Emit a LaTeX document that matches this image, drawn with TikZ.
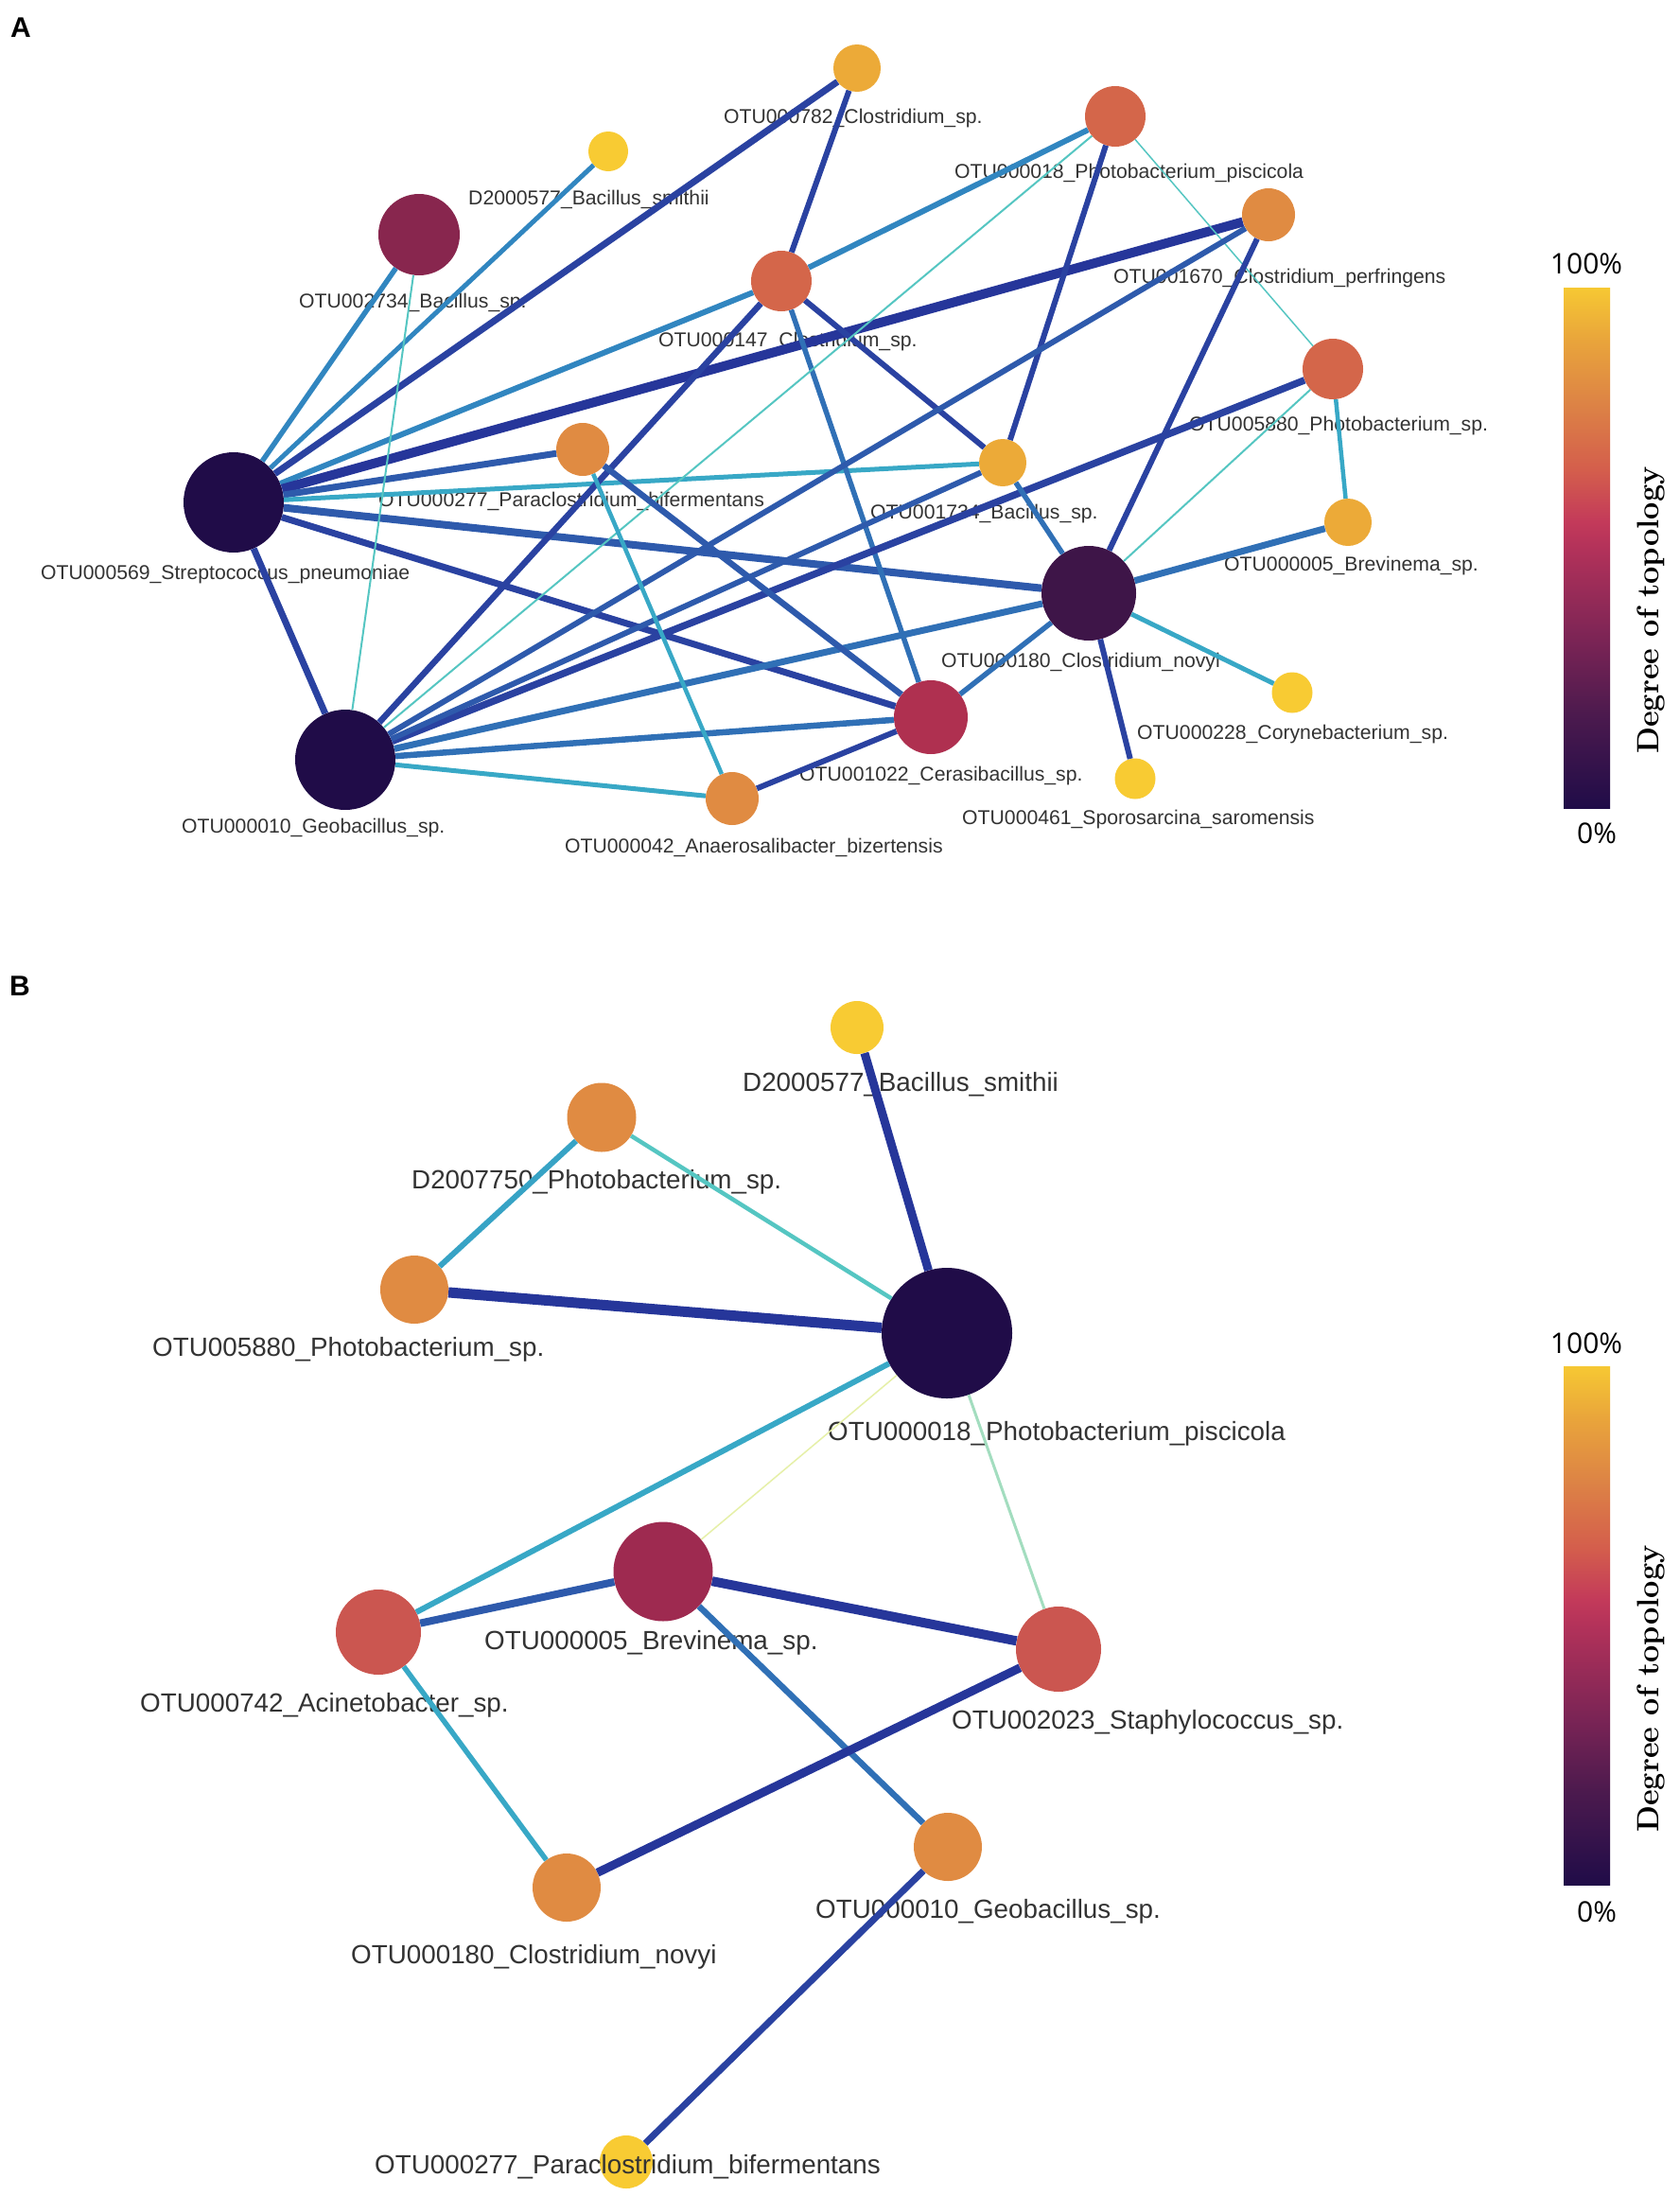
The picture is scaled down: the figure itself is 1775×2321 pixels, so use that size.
\documentclass[tikz,border=0pt]{standalone}
\usepackage{fontspec}
\newfontfamily\arial{Liberation Sans}
\newfontfamily\pctfont{Open Sans}
\pgfdeclarelayer{bg}
\pgfdeclarelayer{labels}
\pgfdeclarelayer{edges}
\pgfsetlayers{bg,main,labels,edges}
% node colours
\definecolor{nDark}{HTML}{200C48}
\definecolor{nPurp}{HTML}{3E1548}
\definecolor{nWine}{HTML}{88264E}
\definecolor{nCrim}{HTML}{AF3050}
\definecolor{nRose}{HTML}{9E2A50}
\definecolor{nCoral}{HTML}{D4664A}
\definecolor{nRed}{HTML}{CB5650}
\definecolor{nOrng}{HTML}{E08B42}
\definecolor{nLOr}{HTML}{ECAA38}
\definecolor{nYel}{HTML}{F8CB33}
% edge colours
\definecolor{eNavy}{HTML}{26369A}
\definecolor{eDark}{HTML}{2A42A1}
\definecolor{eMid}{HTML}{2E5AAC}
\definecolor{eMed}{HTML}{3070B6}
\definecolor{eLight}{HTML}{3186C0}
\definecolor{eCyan}{HTML}{38A8C6}
\definecolor{eTurq}{HTML}{55C6C2}
\definecolor{eMint}{HTML}{A3DDBF}
\definecolor{ePale}{HTML}{E6F0A8}
\definecolor{labc}{HTML}{333333}
% colour bar
\definecolor{cb0}{HTML}{200C48}
\definecolor{cb1}{HTML}{4C1A4E}
\definecolor{cb2}{HTML}{7A2455}
\definecolor{cb3}{HTML}{B3325A}
\definecolor{cb4}{HTML}{C33A5A}
\definecolor{cb5}{HTML}{D45E4C}
\definecolor{cb6}{HTML}{DD8445}
\definecolor{cb7}{HTML}{E9A53B}
\definecolor{cb8}{HTML}{F6C833}
\pgfdeclareverticalshading{topo}{100bp}{color(0bp)=(cb0); color(25bp)=(cb0); color(34bp)=(cb1); color(41bp)=(cb2); color(50bp)=(cb3); color(52.5bp)=(cb4); color(57.5bp)=(cb5); color(64bp)=(cb6); color(70bp)=(cb7); color(75bp)=(cb8); color(100bp)=(cb8)}
\begin{document}
\begin{tikzpicture}[x=1pt,y=-1pt,
  nd/.style={circle, inner sep=0pt, draw=none},
  labA/.style={font=\arial\fontsize{21.2}{24}\selectfont, text=labc, inner sep=0pt, anchor=base west},
  labB/.style={font=\arial\fontsize{27.8}{32}\selectfont, text=labc, inner sep=0pt, anchor=base west},
  panel/.style={font=\arial\bfseries\fontsize{30}{34}\selectfont, inner sep=0pt, anchor=base west},
  pct/.style={font=\pctfont\fontsize{30}{34}\selectfont, inner sep=0pt},
  deg/.style={font=\bfseries\fontsize{32.5}{36}\selectfont, inner sep=0pt, rotate=90},
  cbar/.style={shading=topo, inner sep=0pt, minimum width=49, draw=none},
]
\useasboundingbox (0,0) rectangle (1775,2321);
\begin{pgfonlayer}{bg}
\fill[white] (0,0) rectangle (1775,2321);
\end{pgfonlayer}

% ---------------- Panel A ----------------
\node[panel] (pA) at (11,39) {A};

\node[nd, fill=nLOr, minimum size=50] (a782) at (906,72) {};
\node[nd, fill=nYel, minimum size=42] (a577) at (643,160) {};
\node[nd, fill=nCoral, minimum size=64] (a018) at (1179,123) {};
\node[nd, fill=nWine, minimum size=86] (a2734) at (443,248) {};
\node[nd, fill=nOrng, minimum size=56] (a1670) at (1341,227) {};
\node[nd, fill=nCoral, minimum size=64] (a147) at (826,297) {};
\node[nd, fill=nCoral, minimum size=64] (a5880) at (1409,390) {};
\node[nd, fill=nOrng, minimum size=56] (a277) at (616,475) {};
\node[nd, fill=nLOr, minimum size=50] (a1734) at (1060,489) {};
\node[nd, fill=nDark, minimum size=106] (a569) at (247,531) {};
\node[nd, fill=nLOr, minimum size=50] (a005) at (1425,552) {};
\node[nd, fill=nPurp, minimum size=100] (a180) at (1151,627) {};
\node[nd, fill=nYel, minimum size=43] (a228) at (1366,732) {};
\node[nd, fill=nCrim, minimum size=78] (a1022) at (984,758) {};
\node[nd, fill=nDark, minimum size=106] (a010) at (365,803) {};
\node[nd, fill=nYel, minimum size=43] (a461) at (1200,823) {};
\node[nd, fill=nOrng, minimum size=56] (a042) at (774,844) {};

\begin{pgfonlayer}{labels}
\node[labA] (la782) at (765,130) {OTU000782\_Clostridium\_sp.};
\node[labA] (la577) at (495,216) {D2000577\_Bacillus\_smithii};
\node[labA] (la018) at (1009,188) {OTU000018\_Photobacterium\_piscicola};
\node[labA] (la2734) at (316,325) {OTU002734\_Bacillus\_sp.};
\node[labA] (la1670) at (1177,299) {OTU001670\_Clostridium\_perfringens};
\node[labA] (la147) at (696,366) {OTU000147\_Clostridium\_sp.};
\node[labA] (la5880) at (1257,455) {OTU005880\_Photobacterium\_sp.};
\node[labA] (la277) at (400,535) {OTU000277\_Paraclostridium\_bifermentans};
\node[labA] (la1734) at (920,548) {OTU001734\_Bacillus\_sp.};
\node[labA] (la569) at (43,612) {OTU000569\_Streptococcus\_pneumoniae};
\node[labA] (la005) at (1294,603) {OTU000005\_Brevinema\_sp.};
\node[labA] (la180) at (995,705) {OTU000180\_Clostridium\_novyi};
\node[labA] (la228) at (1202,781) {OTU000228\_Corynebacterium\_sp.};
\node[labA] (la1022) at (845,825) {OTU001022\_Cerasibacillus\_sp.};
\node[labA] (la010) at (192,880) {OTU000010\_Geobacillus\_sp.};
\node[labA] (la461) at (1017,871) {OTU000461\_Sporosarcina\_saromensis};
\node[labA] (la042) at (597,901) {OTU000042\_Anaerosalibacter\_bizertensis};
\end{pgfonlayer}

\begin{pgfonlayer}{edges}
\draw[eLight, line width=5.5] (a569) -- (a2734);
\draw[eLight, line width=5] (a569) -- (a577);
\draw[eDark, line width=7] (a569) -- (a782);
\draw[eLight, line width=6] (a569) -- (a147);
\draw[eLight, line width=6] (a147) -- (a018);
\draw[eNavy, line width=10] (a569) -- (a1670);
\draw[eMid, line width=7] (a569) -- (a277);
\draw[eCyan, line width=5] (a569) -- (a1734);
\draw[eMid, line width=8] (a569) -- (a180);
\draw[eDark, line width=7] (a569) -- (a1022);
\draw[eDark, line width=7] (a569) -- (a010);
\draw[eTurq, line width=2] (a2734) -- (a010);
\draw[eDark, line width=6] (a782) -- (a147);
\draw[eDark, line width=6] (a147) -- (a1734);
\draw[eMed, line width=5.5] (a147) -- (a1022);
\draw[eDark, line width=6.5] (a147) -- (a010);
\draw[eDark, line width=6] (a018) -- (a1734);
\draw[eTurq, line width=2] (a018) -- (a010);
\draw[eTurq, line width=1.5] (a018) -- (a5880);
\draw[eMid, line width=6] (a010) -- (a1670);
\draw[eDark, line width=6] (a1670) -- (a180);
\draw[eDark, line width=7.5] (a010) -- (a5880);
\draw[eMid, line width=6] (a010) -- (a1734);
\draw[eMed, line width=7] (a010) -- (a180);
\draw[eMed, line width=6.5] (a010) -- (a1022);
\draw[eCyan, line width=5] (a010) -- (a042);
\draw[eCyan, line width=4.5] (a277) -- (a042);
\draw[eMid, line width=6.5] (a277) -- (a1022);
\draw[eDark, line width=6] (a042) -- (a1022);
\draw[eMed, line width=5.5] (a1734) -- (a180);
\draw[eTurq, line width=2] (a5880) -- (a180);
\draw[eMed, line width=7] (a180) -- (a005);
\draw[eCyan, line width=5] (a180) -- (a228);
\draw[eDark, line width=6] (a180) -- (a461);
\draw[eMed, line width=5.5] (a180) -- (a1022);
\draw[eCyan, line width=4.5] (a5880) -- (a005);
\end{pgfonlayer}

\node[cbar, minimum height=550] (barA) at (1677.5,579) {};
\node[pct] (pA100) at (1677,279) {100\%};
\node[pct] (pA0) at (1688,881) {0\%};
\node[deg] (degA) at (1745,645) {Degree of topology};

% ---------------- Panel B ----------------
\node[panel] (pB) at (10,1052) {B};

\node[nd, fill=nYel, minimum size=56] (b577) at (906,1086) {};
\node[nd, fill=nOrng, minimum size=73] (b7750) at (636,1181) {};
\node[nd, fill=nOrng, minimum size=72] (b5880) at (438,1363) {};
\node[nd, fill=nDark, minimum size=138] (b018) at (1001,1409) {};
\node[nd, fill=nRose, minimum size=105] (b005) at (701,1661) {};
\node[nd, fill=nRed, minimum size=90] (b742) at (400,1725) {};
\node[nd, fill=nRed, minimum size=90] (b2023) at (1119,1743) {};
\node[nd, fill=nOrng, minimum size=72] (b010) at (1002,1952) {};
\node[nd, fill=nOrng, minimum size=72] (b180) at (599,1995) {};
\node[nd, fill=nYel, minimum size=56] (b277) at (662,2285) {};

\begin{pgfonlayer}{labels}
\node[labB] (lb577) at (785,1153) {D2000577\_Bacillus\_smithii};
\node[labB] (lb7750) at (435,1256) {D2007750\_Photobacterium\_sp.};
\node[labB] (lb5880) at (161,1433) {OTU005880\_Photobacterium\_sp.};
\node[labB] (lb018) at (875,1522) {OTU000018\_Photobacterium\_piscicola};
\node[labB] (lb005) at (512,1743) {OTU000005\_Brevinema\_sp.};
\node[labB] (lb742) at (148,1809) {OTU000742\_Acinetobacter\_sp.};
\node[labB] (lb2023) at (1006,1827) {OTU002023\_Staphylococcus\_sp.};
\node[labB] (lb010) at (862,2027) {OTU000010\_Geobacillus\_sp.};
\node[labB] (lb180) at (371,2075) {OTU000180\_Clostridium\_novyi};
\node[labB] (lb277) at (396,2297) {OTU000277\_Paraclostridium\_bifermentans};
\end{pgfonlayer}

\begin{pgfonlayer}{edges}
\draw[eNavy, line width=9] (b577) -- (b018);
\draw[eCyan!85!eLight, line width=6] (b7750) -- (b5880);
\draw[eTurq, line width=4.5] (b7750) -- (b018);
\draw[eNavy, line width=11] (b5880) -- (b018);
\draw[eCyan, line width=6] (b018) -- (b742);
\draw[ePale, line width=1.5] (b018) -- (b005);
\draw[eMint, line width=3] (b018) -- (b2023);
\draw[eMid, line width=8] (b742) -- (b005);
\draw[eNavy, line width=10] (b005) -- (b2023);
\draw[eCyan, line width=5.5] (b742) -- (b180);
\draw[eMed, line width=6.5] (b005) -- (b010);
\draw[eNavy, line width=9] (b2023) -- (b180);
\draw[eDark, line width=7] (b010) -- (b277);
\end{pgfonlayer}

\node[cbar, minimum height=548] (barB) at (1677.5,1718) {};
\node[pct] (pB100) at (1677,1420) {100\%};
\node[pct] (pB0) at (1688,2021) {0\%};
\node[deg] (degB) at (1745,1785) {Degree of topology};
\end{tikzpicture}
\end{document}
